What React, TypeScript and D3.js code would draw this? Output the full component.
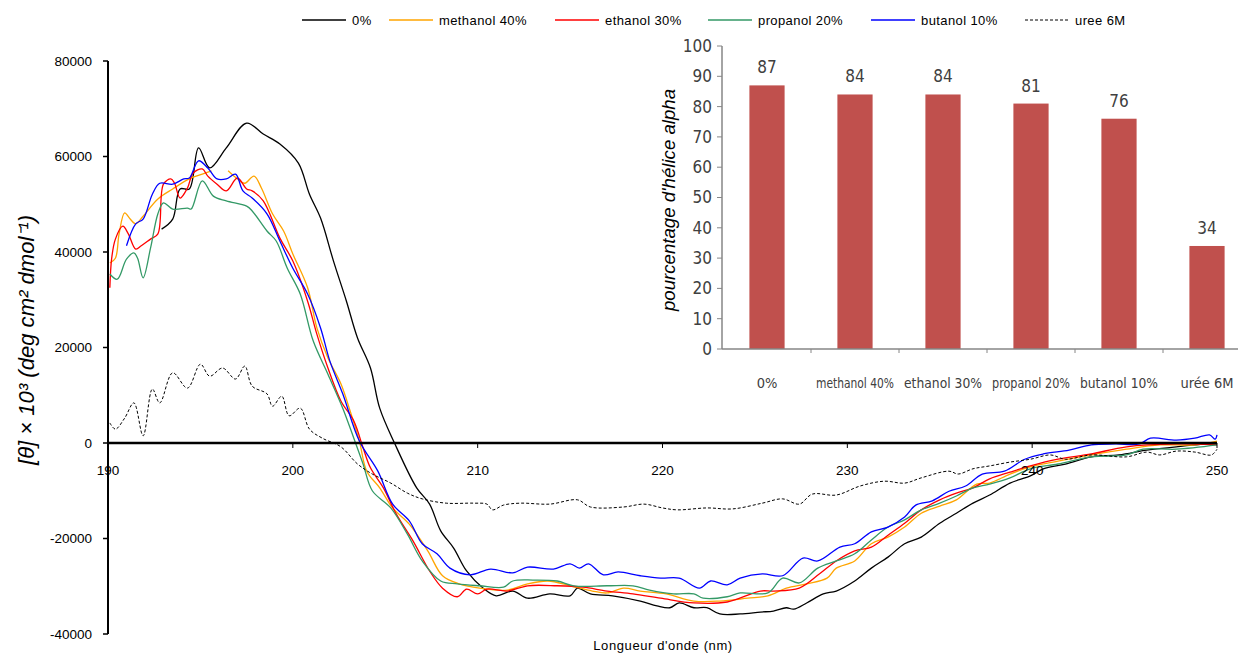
import React, { useRef, useEffect } from 'react';
import * as d3 from 'd3';

// CD spectra, [wavelength nm, [theta] x 10^3]
const ctrl0: [number, number][] = [
  [192.9, 44800], [193.5, 46900], [193.9, 53200], [194.4, 53200], [194.9, 61800], [195.5, 57600],
  [196.4, 61800], [197.5, 67000], [198.4, 64700], [199.3, 62600], [200.3, 58600], [200.9, 52100],
  [201.5, 47100], [202.2, 38100], [202.9, 29700], [203.5, 22000], [204.2, 15700], [204.7, 7300],
  [205.5, 0], [206.7, -9400], [207.4, -12800], [208.0, -18400], [208.7, -22000], [209.4, -26800],
  [210.3, -30400], [211.0, -32000], [211.9, -31000], [212.7, -32500], [213.9, -31600], [215.0, -32000],
  [215.4, -30400], [216.1, -31600], [217.3, -32000], [218.8, -33100], [219.7, -34100], [220.4, -34500],
  [220.9, -33500], [221.7, -34500], [222.4, -34500], [223.1, -35800], [224.2, -35800], [225.3, -35400],
  [226.0, -35200], [226.7, -34500], [227.1, -34800], [227.8, -33500], [228.7, -31600], [229.4, -31000],
  [230.4, -28900], [231.3, -26200], [232.2, -23900], [233.1, -21100], [234.0, -19700], [235.0, -16800],
  [235.9, -14700], [236.8, -12600], [237.7, -10900], [238.8, -8400], [239.9, -6900], [240.6, -5400],
  [241.8, -4400], [243.2, -2900], [244.7, -2500], [246.2, -1500], [247.8, -800], [249.7, -200], [250, -300],
];

const methanol40: [number, number][] = [
  [190.1, 37700], [190.4, 38700], [190.6, 43800], [190.9, 48200], [191.2, 46900], [191.5, 45900],
  [191.9, 47500], [192.7, 51100], [193.5, 53200], [194.4, 55300], [195.1, 56300], [195.6, 57000],
  [196.0, NaN], [196.5, 57000], [197.0, 55300], [197.4, 54400], [197.9, 55900], [198.3, 53400],
  [198.9, 48000], [199.5, 44400], [200.0, 39600], [200.8, 32500], [201.3, 24100], [201.9, 17800],
  [202.6, 12400], [203.1, 6700], [203.6, 400], [204.0, -5900], [204.7, -9400], [205.4, -13600],
  [206.3, -17000], [207.3, -22600], [208.1, -27800], [209.0, -29500], [210.1, -30400], [211.6, -30800],
  [212.7, -29500], [213.8, -28900], [215.0, -29900], [216.2, -31000], [217.0, -31400], [217.9, -30400],
  [218.8, -31000], [220.2, -31600], [221.7, -33100], [223.1, -33100], [224.6, -32500], [225.7, -32000],
  [226.7, -30400], [227.8, -29500], [228.9, -28300], [229.4, -26200], [230.4, -24700], [231.3, -21100],
  [232.2, -19700], [233.1, -17600], [234.0, -14700], [235.0, -13200], [235.9, -11900], [237.0, -8600],
  [237.7, -8400], [238.8, -6500], [239.9, -5000], [241.4, -3800], [243.2, -2500], [245.1, -1300],
  [246.9, -400], [248.8, -400], [250, 400],
];

const ethanol30: [number, number][] = [
  [190.1, 32500], [190.2, 38700], [190.4, 42700], [190.8, 45400], [191.1, 43800], [191.5, 40600],
  [191.8, 41300], [192.3, 42700], [192.7, 43800], [193.0, 54200], [193.4, 55300], [193.6, 54400],
  [193.9, 51300], [194.3, 53400], [194.6, 56500], [195.1, 57400], [195.4, 55900], [195.9, 54200],
  [196.4, 52800], [197.0, 55500], [197.5, 53200], [197.8, 52800], [198.4, 50700], [199.3, 42900],
  [200.0, 38100], [200.8, 29700], [201.3, 22800], [201.9, 15700], [202.6, 8800], [203.3, 4600],
  [203.8, -1000], [204.2, -5200], [204.9, -9400], [205.6, -14900], [206.5, -20500], [207.4, -26800],
  [208.1, -30400], [208.9, -32200], [209.4, -30600], [210.0, -31600], [210.5, -30600], [211.6, -31000],
  [212.7, -29900], [214.3, -29900], [215.7, -30200], [217.0, -31000], [218.4, -31600], [219.9, -32500],
  [221.7, -33500], [223.5, -33300], [225.3, -31000], [226.0, -31000], [227.4, -30400], [228.5, -27400],
  [229.4, -24700], [230.4, -22600], [231.3, -21800], [232.2, -19300], [233.1, -16800], [234.0, -14000],
  [235.0, -11900], [235.9, -10500], [236.8, -9400], [237.7, -7500], [238.8, -6100], [239.9, -4800],
  [241.4, -3400], [243.2, -2300], [245.1, -800], [247.8, -200], [250, -400],
];

const propanol20: [number, number][] = [
  [190.1, 35400], [190.5, 34300], [191.0, 38500], [191.4, 39800], [191.6, 38700], [191.9, 34600],
  [192.3, 40800], [192.7, 48000], [193.0, 50300], [193.5, 49000], [194.3, 49200], [194.5, 49000],
  [195.1, 54900], [195.7, 51700], [196.4, 50700], [197.5, 49600], [197.8, 48600], [198.6, 44400],
  [199.1, 42300], [199.7, 36600], [200.4, 31200], [201.1, 21400], [201.9, 14400], [202.7, 7300],
  [203.3, 1000], [203.8, -4400], [204.3, -10000], [205.3, -13600], [206.2, -19100], [207.0, -24700],
  [208.0, -28900], [208.9, -29500], [210.1, -29900], [211.4, -30200], [211.9, -28900], [213.0, -28700],
  [214.3, -28900], [215.2, -29900], [217.0, -29900], [218.4, -29900], [219.3, -30800], [220.6, -31600],
  [221.7, -31600], [222.2, -32500], [223.5, -32200], [224.2, -31400], [225.7, -31400], [226.5, -28300],
  [227.4, -29300], [228.4, -26200], [229.4, -24700], [230.4, -23200], [231.3, -20300], [232.2, -17600],
  [233.1, -16100], [234.0, -14000], [235.0, -12600], [235.9, -11100], [236.8, -9400], [237.7, -8600],
  [238.8, -7300], [239.9, -5400], [241.4, -4400], [243.2, -2900], [245.1, -2500], [246.0, -1300],
  [247.8, -1300], [250, -400],
];

const butanol10: [number, number][] = [
  [191.0, 41300], [191.5, 45900], [191.9, 46900], [192.4, 52100], [192.8, 54400], [193.5, 54200],
  [194.1, 55300], [194.4, 55500], [194.9, 59100], [195.4, 57600], [195.9, 55300], [196.4, 55300],
  [196.9, 56300], [197.3, 52800], [197.8, 51300], [198.6, 48000], [199.3, 42300], [200.0, 36600],
  [200.8, 31200], [201.5, 24100], [202.0, 17200], [202.7, 10300], [203.6, 400], [204.6, -5900],
  [205.4, -12800], [206.3, -16300], [207.0, -21100], [207.8, -23200], [208.5, -26200], [209.6, -27600],
  [210.7, -26400], [211.9, -27200], [212.7, -26000], [214.1, -26400], [215.0, -25300], [215.5, -26200],
  [216.0, -25300], [216.8, -27600], [217.6, -27000], [218.8, -27800], [219.9, -28300], [220.9, -28300],
  [222.0, -30400], [222.6, -28900], [223.5, -29700], [224.2, -28300], [225.4, -27400], [226.5, -27800],
  [227.6, -24100], [228.4, -24700], [229.6, -21800], [230.4, -21100], [231.3, -18600], [232.2, -17600],
  [233.1, -15500], [233.7, -13000], [234.6, -12100], [235.5, -10100], [236.4, -9000], [237.3, -6500],
  [238.5, -5900], [239.6, -3400], [240.6, -2300], [242.0, -1500], [243.2, -400], [244.5, -200],
  [245.8, -200], [246.4, 1000], [247.8, 600], [248.8, 1000], [249.6, 1700], [249.9, 800], [250, 1700],
];

const uree6M: [number, number][] = [
  [190.1, 4200], [190.4, 2900], [190.9, 5200], [191.4, 8400], [191.9, 1500], [192.4, 11300],
  [192.8, 8400], [193.5, 14700], [194.3, 11500], [195.0, 16500], [195.5, 14000], [196.2, 15700],
  [196.9, 13400], [197.4, 16100], [197.8, 11900], [198.6, 10300], [198.9, 7700], [199.4, 9800],
  [199.8, 5700], [200.4, 7300], [200.9, 2900], [201.6, 1000], [202.6, -800], [203.5, -4400],
  [204.3, -6500], [205.3, -8400], [206.2, -10500], [207.0, -11700], [208.3, -12600], [209.8, -12600],
  [210.5, -12800], [210.8, -14000], [211.4, -13000], [212.3, -12600], [213.9, -12800], [215.4, -11900],
  [216.1, -13400], [217.9, -13400], [219.0, -12800], [220.0, -13600], [220.8, -14000], [222.4, -13600],
  [223.8, -13800], [225.4, -12600], [226.5, -11700], [227.4, -12800], [228.1, -10700], [229.4, -10900],
  [230.7, -9000], [232.0, -8000], [233.1, -8400], [234.0, -7300], [235.5, -5900], [236.0, -6500],
  [236.8, -5400], [237.7, -4800], [238.8, -4000], [239.9, -3400], [241.0, -2500], [241.8, -3400],
  [243.2, -2500], [245.1, -2900], [246.2, -1900], [246.9, -2500], [247.8, -1700], [248.8, -1900],
  [249.7, -2500], [250, -1300],
];

const seriesNames = ['0%', 'methanol 40%', 'ethanol 30%', 'propanol 20%', 'butanol 10%', 'uree 6M'];
const seriesData = [ctrl0, methanol40, ethanol30, propanol20, butanol10, uree6M];
const seriesColors = ['#000000', '#FFA500', '#FF0000', '#339966', '#0000FF', '#000000'];

const xTicks = [190, 200, 210, 220, 230, 240, 250];
const yTicks = [-40000, -20000, 0, 20000, 40000, 60000, 80000];

// inset: helix percentage
const helixCats = ['0%', 'methanol 40%', 'ethanol 30%', 'propanol 20%', 'butanol 10%', 'urée 6M'];
const helixVals = [87, 84, 84, 81, 76, 34];
const helixTicks = [0, 10, 20, 30, 40, 50, 60, 70, 80, 90, 100];

const W = 1238;
const H = 654;

const App = () => {
  const ref = useRef<SVGSVGElement>(null);

  useEffect(() => {
    const svg = d3.select(ref.current);
    svg.selectAll('*').remove();

    const x = d3.scaleLinear().domain([190, 250]).range([108, 1217]);
    const y = d3.scaleLinear().domain([-40000, 80000]).range([634, 61]);
    const font = "'Liberation Sans', Arial, sans-serif";
    const narrow = "'DejaVu Sans Condensed', 'Liberation Sans', sans-serif";

    // curves
    const line = d3.line<[number, number]>()
      .defined(d => !isNaN(d[1]))
      .x(d => x(d[0]))
      .y(d => y(d[1]))
      .curve(d3.curveCatmullRom);

    seriesData.forEach((s, i) => {
      svg.append('path')
        .datum(s)
        .attr('d', line)
        .attr('fill', 'none')
        .attr('stroke', seriesColors[i])
        .attr('stroke-width', i === 5 ? 1 : 1.3)
        .attr('stroke-dasharray', i === 5 ? '3,2' : null);
    });

    // y axis
    svg.append('line')
      .attr('x1', x(190)).attr('x2', x(190))
      .attr('y1', y(80000)).attr('y2', y(-40000))
      .attr('stroke', '#000').attr('stroke-width', 2);
    yTicks.forEach(t => {
      svg.append('line')
        .attr('x1', x(190) - 5).attr('x2', x(190))
        .attr('y1', y(t)).attr('y2', y(t))
        .attr('stroke', '#000').attr('stroke-width', 1.5);
      svg.append('text')
        .attr('x', 92).attr('y', y(t))
        .attr('dy', '0.35em')
        .attr('text-anchor', 'end')
        .attr('font-family', font)
        .attr('font-size', 13.5)
        .attr('fill', '#000')
        .text(t);
    });

    // x axis at 0
    svg.append('line')
      .attr('x1', x(190)).attr('x2', x(250))
      .attr('y1', y(0)).attr('y2', y(0))
      .attr('stroke', '#000').attr('stroke-width', 2.5);
    xTicks.forEach(t => {
      svg.append('line')
        .attr('x1', x(t)).attr('x2', x(t))
        .attr('y1', y(0)).attr('y2', y(0) + 5)
        .attr('stroke', '#000').attr('stroke-width', 1);
      svg.append('text')
        .attr('x', x(t)).attr('y', y(0) + 27)
        .attr('dy', '0.35em')
        .attr('text-anchor', 'middle')
        .attr('font-family', font)
        .attr('font-size', 13.5)
        .attr('fill', '#000')
        .text(t);
    });

    svg.append('text')
      .attr('x', 663).attr('y', 650)
      .attr('text-anchor', 'middle')
      .attr('font-family', font)
      .attr('font-size', 13)
      .attr('letter-spacing', 0.6)
      .text("Longueur d'onde (nm)");

    svg.append('text')
      .attr('transform', 'translate(34, 340) rotate(-90)')
      .attr('text-anchor', 'middle')
      .attr('font-family', font)
      .attr('font-style', 'italic')
      .attr('font-size', 22)
      .attr('textLength', 250)
      .attr('lengthAdjust', 'spacingAndGlyphs')
      .text('[θ] × 10³ (deg cm² dmol⁻¹)');

    // legend
    const legX = [302, 389, 555, 708, 871, 1025];
    seriesNames.forEach((n, i) => {
      svg.append('line')
        .attr('x1', legX[i]).attr('x2', legX[i] + 44)
        .attr('y1', 20).attr('y2', 20)
        .attr('stroke', seriesColors[i])
        .attr('stroke-width', i === 5 ? 1 : 1.3)
        .attr('stroke-dasharray', i === 5 ? '3,2' : null);
      svg.append('text')
        .attr('x', legX[i] + 50).attr('y', 20)
        .attr('dy', '0.35em')
        .attr('font-family', font)
        .attr('font-size', 13)
        .attr('letter-spacing', 0.4)
        .attr('fill', '#000')
        .text(n);
    });

    // inset bar chart
    const xb = d3.scaleBand().domain(helixCats).range([723, 1251]);
    const yb = d3.scaleLinear().domain([0, 100]).range([349, 46]);
    const gray = '#868686';
    const txt = '#404040';
    const barW = xb.bandwidth() * 0.4;

    helixVals.forEach((v, i) => {
      const cx = (xb(helixCats[i]) as number) + xb.bandwidth() / 2;
      svg.append('rect')
        .attr('x', cx - barW / 2)
        .attr('y', yb(v))
        .attr('width', barW)
        .attr('height', yb(0) - yb(v))
        .attr('fill', '#C0504D');
      svg.append('text')
        .attr('x', cx).attr('y', yb(v) - 18)
        .attr('dy', '0.35em')
        .attr('text-anchor', 'middle')
        .attr('font-family', narrow)
        .attr('font-size', 17)
        .attr('fill', txt)
        .text(v);
      const lab = svg.append('text')
        .attr('x', cx).attr('y', 383)
        .attr('dy', '0.35em')
        .attr('text-anchor', 'middle')
        .attr('font-family', narrow)
        .attr('font-size', 14.5)
        .attr('fill', txt)
        .text(helixCats[i]);
      const len = (lab.node() as SVGTextElement).getComputedTextLength();
      if (len > 78) {
        lab.attr('textLength', 78).attr('lengthAdjust', 'spacingAndGlyphs');
      }
    });

    svg.append('line')
      .attr('x1', 722).attr('x2', 722)
      .attr('y1', yb(100)).attr('y2', yb(0))
      .attr('stroke', gray).attr('stroke-width', 1.5);
    svg.append('line')
      .attr('x1', 722).attr('x2', W)
      .attr('y1', yb(0)).attr('y2', yb(0))
      .attr('stroke', gray).attr('stroke-width', 1.5);
    helixCats.slice(1).forEach(c => {
      svg.append('line')
        .attr('x1', xb(c) as number).attr('x2', xb(c) as number)
        .attr('y1', yb(0)).attr('y2', yb(0) + 4)
        .attr('stroke', gray).attr('stroke-width', 1);
    });
    helixTicks.forEach(t => {
      svg.append('line')
        .attr('x1', 717).attr('x2', 722)
        .attr('y1', yb(t)).attr('y2', yb(t))
        .attr('stroke', gray).attr('stroke-width', 1);
      svg.append('text')
        .attr('x', 712).attr('y', yb(t))
        .attr('dy', '0.35em')
        .attr('text-anchor', 'end')
        .attr('font-family', narrow)
        .attr('font-size', 17)
        .attr('fill', txt)
        .text(t);
    });

    svg.append('text')
      .attr('transform', 'translate(668, 200) rotate(-90)')
      .attr('dy', '0.35em')
      .attr('text-anchor', 'middle')
      .attr('font-family', font)
      .attr('font-style', 'italic')
      .attr('font-size', 19)
      .attr('textLength', 222)
      .attr('lengthAdjust', 'spacingAndGlyphs')
      .attr('fill', '#000')
      .text("pourcentage d'hélice alpha");

    return () => {
      svg.selectAll('*').remove();
    };
  }, []);

  return (
    <svg ref={ref} width={W} height={H}
      style={{ position: 'absolute', left: 0, top: 0, background: '#fff' }} />
  );
};

export default App;
